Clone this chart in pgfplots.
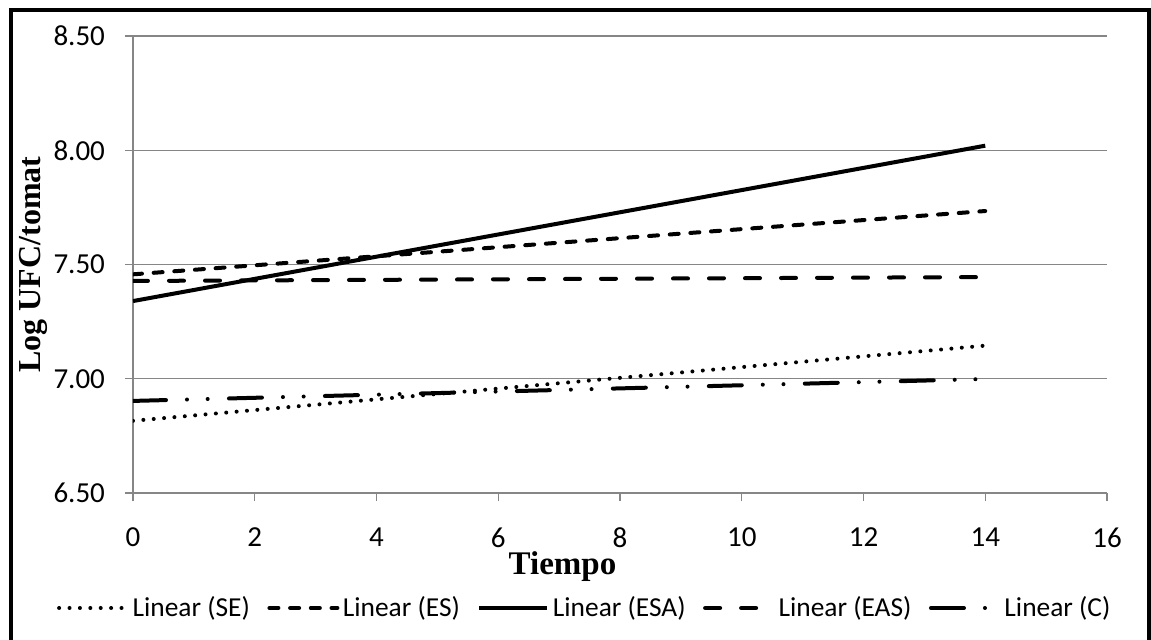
\documentclass[border=0pt]{standalone}
\usepackage{fontspec}
\setmainfont{Carlito}
\newfontfamily\tnr{Liberation Serif}
\usepackage{pgfplots}
\pgfplotsset{compat=1.18}
\definecolor{gridgray}{RGB}{134,134,134}

\begin{document}
\fontsize{13}{15.6}\selectfont
\begin{tikzpicture}
\useasboundingbox (0,0) rectangle (575.5pt,319.5pt);
\draw[line width=2pt] (5.25pt,-20pt) -- (5.25pt,314.5pt) -- (574.5pt,314.5pt) -- (574.5pt,-20pt);

\begin{axis}[
at={(66.5pt,73pt)}, anchor=south west,
scale only axis,
width=487pt,
height=228.5pt,
xmin=0, xmax=16,
ymin=6.5, ymax=8.5,
xtick={0,2,...,16},
ytick={6.5,7,7.5,8,8.5},
axis x line*=bottom,
axis y line*=left,
axis line style={-, gridgray, line width=0.6pt},
ymajorgrids,
major grid style={gridgray, line width=0.6pt},
tick style={gridgray, line width=0.6pt},
major tick length=4pt,
tick align=outside,
/pgf/number format/assume math mode=true,
every tick label/.append style={font=\fontsize{14.5}{17}\selectfont, text=black},
yticklabel style={xshift=-5.5pt, /pgf/number format/.cd, fixed, fixed zerofill, precision=2},
xticklabel style={yshift=-9pt},
xlabel={\tnr\bfseries Tiempo},
ylabel={\tnr\bfseries Log UFC/tomat},
xlabel style={font=\fontsize{16.5}{19}\selectfont, at={(axis description cs:0.441,-0.1794)}, anchor=base},
ylabel style={font=\fontsize{16}{19}\selectfont, at={(axis description cs:-0.1027,0.5)}, anchor=center},
legend columns=5,
legend style={at={(axis description cs:0.4646,-0.2516)}, anchor=center, draw=none, fill=none,
  font=\fontsize{13.7}{16}\selectfont,
  /tikz/every even column/.append style={column sep=7pt},
  nodes={inner sep=1.75pt}},
legend image code/.code={\draw[#1] (0pt,0pt) -- (34pt,0pt);},
]

\addplot[black, line width=2pt, line cap=round, dash pattern=on 0pt off 5.2pt]
coordinates {(0,6.816) (14,7.145)};
\addlegendentry{Linear (SE)}

\addplot[black, line width=2pt, line cap=round, dash pattern=on 4.5pt off 5.85pt]
coordinates {(0,7.457) (14,7.734)};
\addlegendentry{Linear (ES)}

\addplot[black, line width=2pt]
coordinates {(0,7.340) (14,8.020)};
\addlegendentry{Linear (ESA)}

\addplot[black, line width=2pt, line cap=round, dash pattern=on 7.5pt off 10.5pt]
coordinates {(0,7.428) (14,7.445)};
\addlegendentry{Linear (EAS)}

\addplot[black, line width=2pt, line cap=round, dash pattern=on 16.5pt off 10.5pt on 0pt off 10.35pt on 0pt off 10.65pt]
coordinates {(0,6.903) (14,6.999)};
\addlegendentry{Linear (C)}

\end{axis}
\end{tikzpicture}
\end{document}
